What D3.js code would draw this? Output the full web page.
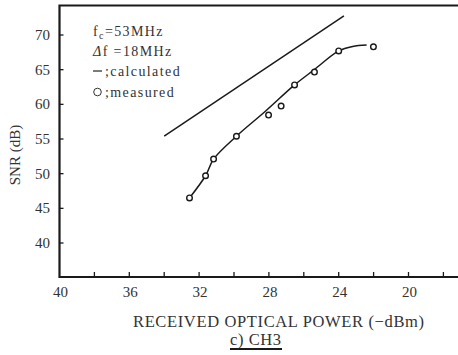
<!DOCTYPE html>
<html>
<head>
<meta charset="utf-8">
<script src="https://cdn.jsdelivr.net/npm/d3@7"></script>
<style>
    body { margin: 0; background: #fff; }
    svg { display: block; font-family: "Liberation Serif", "DejaVu Serif", serif; }
</style>
</head>
<body>
<svg id="chart"></svg>
<script>
// received optical power (-dBm) vs SNR (dB)
const measuredPower = [32.55, 31.63, 31.17, 29.86, 28.02, 27.3, 26.53, 25.39, 24.0, 22.01];
const measuredSnr   = [46.5, 49.7, 52.1, 55.4, 58.45, 59.75, 62.8, 64.65, 67.7, 68.3];

// smooth line drawn through the measured points
const fitPower = [32.55, 31.63, 31.17, 29.86, 28.2, 26.53, 25.4, 24.0, 23.2, 22.4];
const fitSnr   = [46.5, 49.7, 52.1, 55.4, 59.0, 62.8, 65.0, 67.7, 68.35, 68.55];

// calculated (straight line)
const calcPower = [34.0, 23.7];
const calcSnr   = [55.4, 72.75];

const xTicks = [38, 36, 34, 32, 30, 28, 26, 24, 22, 20, 18];
const xTickLabels = [40, 36, 32, 28, 24, 20];
const yTicks = [40, 45, 50, 55, 60, 65, 70];

const width = 458, height = 355;
const svg = d3.select("#chart")
    .attr("width", width)
    .attr("height", height);

const plotLeft = 59.5, plotRight = 458, plotTop = 5.5, plotBottom = 277;

const x = d3.scaleLinear()
    .domain([40, 40 - (plotRight - plotLeft) / 17.45])
    .range([plotLeft, plotRight]);

const y = d3.scaleLinear()
    .domain([40, 70])
    .range([243, 35]);

const ink = "#1a1a1a";

// frame: left axis, bottom axis, top line
svg.append("path")
    .attr("d", `M${plotRight},${plotTop} L${plotLeft},${plotTop} L${plotLeft},${plotBottom} L${plotRight},${plotBottom}`)
    .attr("fill", "none")
    .attr("stroke", ink)
    .attr("stroke-width", 2.2);

// y ticks (inward)
svg.selectAll(".ytick")
    .data(yTicks)
    .join("line")
    .attr("x1", plotLeft)
    .attr("x2", plotLeft + 4)
    .attr("y1", d => y(d))
    .attr("y2", d => y(d))
    .attr("stroke", ink)
    .attr("stroke-width", 1.3);

svg.selectAll(".ylabel")
    .data(yTicks)
    .join("text")
    .attr("x", 50)
    .attr("y", d => y(d) + 5)
    .attr("text-anchor", "end")
    .attr("font-size", 15)
    .attr("fill", "#333")
    .text(d => d);

// x ticks (inward)
svg.selectAll(".xtick")
    .data(xTicks)
    .join("line")
    .attr("x1", d => x(d))
    .attr("x2", d => x(d))
    .attr("y1", plotBottom)
    .attr("y2", plotBottom - 5)
    .attr("stroke", ink)
    .attr("stroke-width", 1.3);

svg.selectAll(".xlabel")
    .data(xTickLabels)
    .join("text")
    .attr("x", d => x(d) + 1)
    .attr("y", 297)
    .attr("text-anchor", "middle")
    .attr("font-size", 15)
    .attr("fill", "#333")
    .text(d => d);

// axis titles
svg.append("text")
    .attr("transform", "translate(20,155) rotate(-90)")
    .attr("text-anchor", "middle")
    .attr("font-size", 15)
    .attr("fill", "#333")
    .text("SNR (dB)");

svg.append("text")
    .attr("x", 133)
    .attr("y", 327)
    .attr("font-size", 16.5)
    .attr("fill", "#333")
    .attr("textLength", 291)
    .attr("lengthAdjust", "spacing")
    .text("RECEIVED OPTICAL POWER (\u2212dBm)");

svg.append("text")
    .attr("x", 230)
    .attr("y", 345)
    .attr("font-size", 16.5)
    .attr("fill", "#333")
    .attr("textLength", 51)
    .attr("lengthAdjust", "spacing")
    .text("c) CH3");

svg.append("line")
    .attr("x1", 230).attr("x2", 282)
    .attr("y1", 349).attr("y2", 349)
    .attr("stroke", ink)
    .attr("stroke-width", 1.8);

// calculated line
const line = d3.line()
    .x(d => x(d[0]))
    .y(d => y(d[1]));

svg.append("path")
    .attr("d", line(d3.zip(calcPower, calcSnr)))
    .attr("fill", "none")
    .attr("stroke", ink)
    .attr("stroke-width", 1.5);

// fitted curve through measured points
svg.append("path")
    .attr("d", line.curve(d3.curveCatmullRom.alpha(0.5))(d3.zip(fitPower, fitSnr)))
    .attr("fill", "none")
    .attr("stroke", ink)
    .attr("stroke-width", 1.5);

// measured points
svg.selectAll(".pt")
    .data(d3.zip(measuredPower, measuredSnr))
    .join("circle")
    .attr("cx", d => x(d[0]))
    .attr("cy", d => y(d[1]))
    .attr("r", 2.8)
    .attr("fill", "#fff")
    .attr("stroke", ink)
    .attr("stroke-width", 1.4);

// legend
const lg = svg.append("g")
    .attr("font-size", 14)
    .attr("letter-spacing", 1.4)
    .attr("fill", "#333");

const t1 = lg.append("text").attr("x", 93).attr("y", 36);
t1.append("tspan").text("f");
t1.append("tspan").attr("font-size", 10).attr("dy", 3).text("c");
t1.append("tspan").attr("dy", -3).text("=53MHz");

const t2 = lg.append("text").attr("x", 93).attr("y", 56);
t2.append("tspan").attr("font-style", "italic").text("\u0394");
t2.append("tspan").text("f =18MHz");

lg.append("line")
    .attr("x1", 93).attr("x2", 102)
    .attr("y1", 71).attr("y2", 71)
    .attr("stroke", "#333")
    .attr("stroke-width", 1.3);
lg.append("text").attr("x", 105).attr("y", 76).text(";calculated");

lg.append("circle")
    .attr("cx", 97.5).attr("cy", 92)
    .attr("r", 3.8)
    .attr("fill", "none")
    .attr("stroke", "#333")
    .attr("stroke-width", 1);
lg.append("text").attr("x", 105).attr("y", 97).text(";measured");
</script>
</body>
</html>
